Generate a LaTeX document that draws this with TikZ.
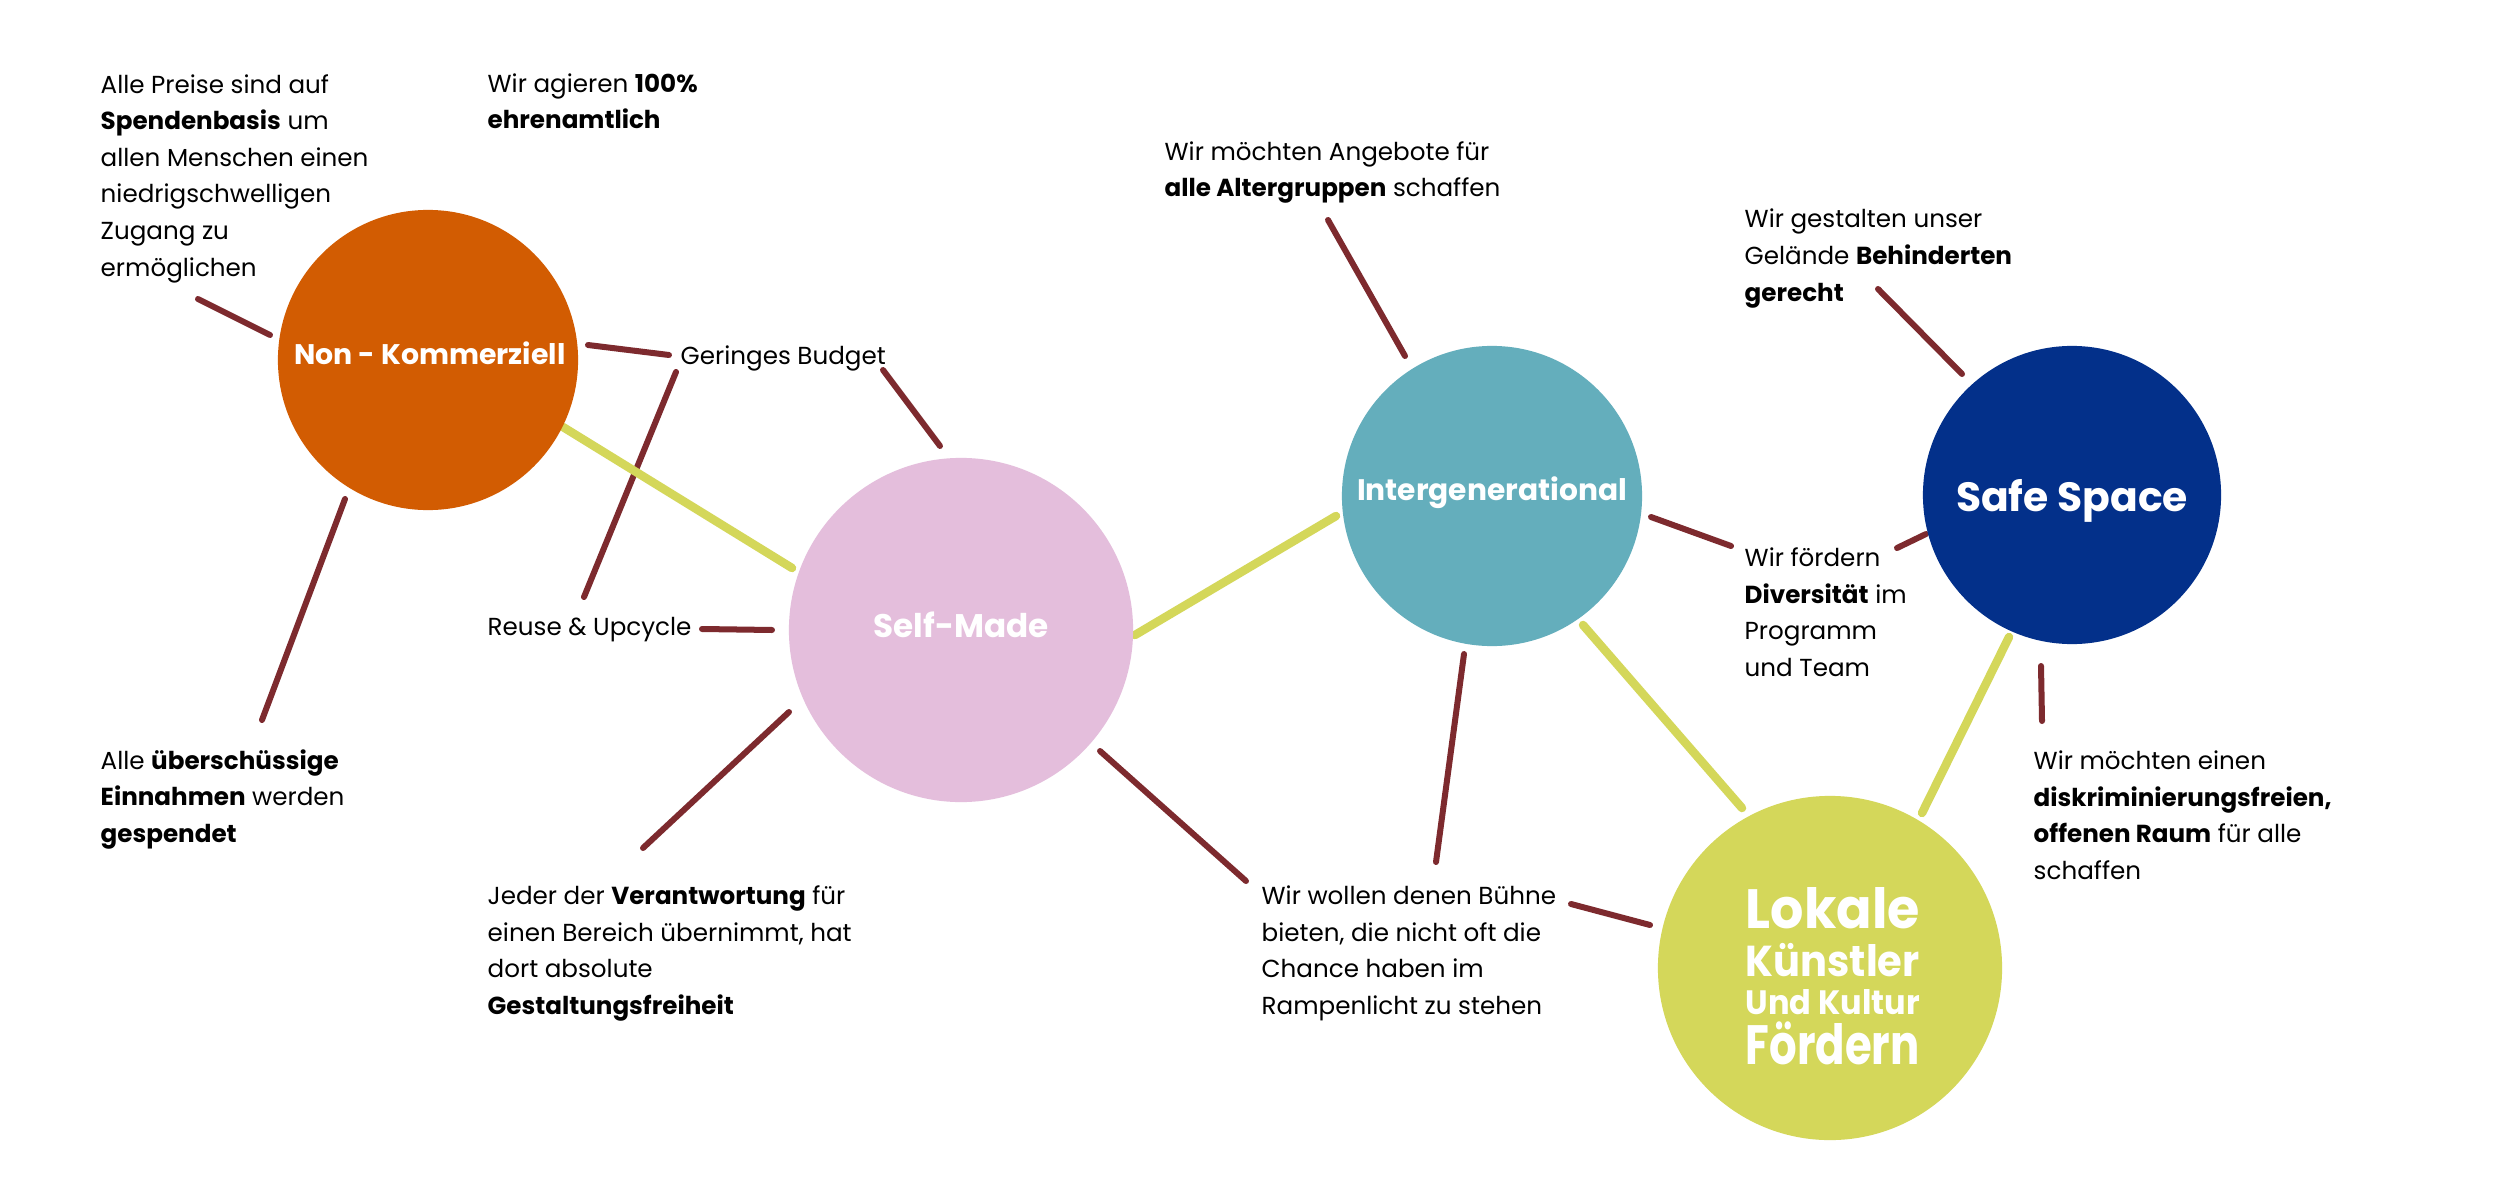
\documentclass[tikz,border=0pt]{standalone}
\usepackage{fontspec}
\setmainfont{Poppins}
\usepackage{graphicx}
\definecolor{cOrange}{HTML}{D25C02}
\definecolor{cPink}{HTML}{E4BEDC}
\definecolor{cTeal}{HTML}{64AEBC}
\definecolor{cNavy}{HTML}{03308A}
\definecolor{cLime}{HTML}{D4D75A}
\definecolor{cRed}{HTML}{7D2A2E}
\newlength\pxu \setlength\pxu{0.01cm}
\begin{document}
\begin{tikzpicture}[x=0.01cm,y=-0.01cm,
  stub/.style={draw=cRed, line width=0.06cm, line cap=round},
  link/.style={draw=cLime, line width=0.085cm, line cap=round},
  circ/.style={circle, inner sep=0pt, draw=none},
  txt/.style={anchor=base west, align=left, inner sep=0pt, text=black,
    font=\fontsize{7.0pt}{10.38pt}\selectfont},
  lbl/.style={anchor=base, inner sep=0pt, text=white, font=\bfseries}]
\useasboundingbox[fill=white] (0,0) rectangle (2500,1194);

% connector end points
\coordinate (r1a) at (198,299);  \coordinate (r1b) at (270,335);
\coordinate (r2a) at (588,345);  \coordinate (r2b) at (669,355);
\coordinate (r3a) at (345,499);  \coordinate (r3b) at (262,720);
\coordinate (r4a) at (676,372);  \coordinate (r4b) at (584,597);
\coordinate (r5a) at (883,370);  \coordinate (r5b) at (940,446);
\coordinate (r6a) at (702,629);  \coordinate (r6b) at (772,630);
\coordinate (r7a) at (789,712);  \coordinate (r7b) at (643,848);
\coordinate (r8a) at (1100,751); \coordinate (r8b) at (1246,881);
\coordinate (r9a) at (1328,220); \coordinate (r9b) at (1405,356);
\coordinate (r10a) at (1651,517); \coordinate (r10b) at (1731,546);
\coordinate (r11a) at (1464,654); \coordinate (r11b) at (1436,862);
\coordinate (r12a) at (1571,904); \coordinate (r12b) at (1650,925);
\coordinate (r13a) at (1878,289); \coordinate (r13b) at (1962,374);
\coordinate (r14a) at (1897,548); \coordinate (r14b) at (1926,534);
\coordinate (r15a) at (2041,666); \coordinate (r15b) at (2042,721);
\coordinate (y1a) at (563,427);  \coordinate (y1b) at (792,568);
\coordinate (y2a) at (1135,635); \coordinate (y2b) at (1336,516);
\coordinate (y3a) at (1583,625); \coordinate (y3b) at (1742,808);
\coordinate (y4a) at (2009,637); \coordinate (y4b) at (1922,813);

% connectors
\foreach \i in {1,...,15} \draw[stub] (r\i a) -- (r\i b);
\foreach \i in {1,...,4} \draw[link] (y\i a) -- (y\i b);

% circles
\node[circ, fill=cOrange, minimum size=3.0cm]  (nk) at (428,360) {};
\node[circ, fill=cPink,   minimum size=3.44cm] (sm) at (961,630) {};
\node[circ, fill=cTeal,   minimum size=3.0cm]  (ig) at (1492,496) {};
\node[circ, fill=cNavy,   minimum size=2.98cm] (ss) at (2072,495) {};
\node[circ, fill=cLime,   minimum size=3.44cm] (lk) at (1830,968) {};

% circle labels
\node[lbl] (nkl) at (430,364) {\resizebox{271\pxu}{!}{Non - Kommerziell}};
\node[lbl] (sml) at (961,637) {\resizebox{175\pxu}{!}{Self-Made}};
\node[lbl] (igl) at (1492,500) {\resizebox{270\pxu}{!}{Intergenerational}};
\node[lbl] (ssl) at (2072,511) {\resizebox{232\pxu}{!}{Safe Space}};
\node[lbl, anchor=base west] (lk1) at (1745,928) {\resizebox{174\pxu}{41\pxu}{Lokale}};
\node[lbl, anchor=base west] (lk2) at (1745,976) {\resizebox{174\pxu}{32\pxu}{K\smash{ü}nstler}};
\node[lbl, anchor=base west] (lk3) at (1745,1014) {\resizebox{174\pxu}{25\pxu}{Und Kultur}};
\node[lbl, anchor=base west] (lk4) at (1745,1064) {\resizebox{174\pxu}{41\pxu}{F\smash{ö}rdern}};

% texts (anchored at the baseline of their last line)
\node[txt] (t1) at (100,276) {Alle Preise sind auf\\\textbf{Spendenbasis} um\\allen Menschen einen\\niedrigschwelligen\\Zugang zu\\ermöglichen};
\node[txt] (t2) at (487,129) {Wir agieren \textbf{100\%}\\\textbf{ehrenamtlich}};
\node[txt] (t3) at (680,364) {Geringes Budget};
\node[txt] (t4) at (487,635) {Reuse \& Upcycle};
\node[txt] (t5) at (100,842) {Alle \textbf{überschüssige}\\\textbf{Einnahmen} werden\\\textbf{gespendet}};
\node[txt] (t6) at (487,1014) {Jeder der \textbf{Verantwortung} für\\einen Bereich übernimmt, hat\\dort absolute\\\textbf{Gestaltungsfreiheit}};
\node[txt] (t7) at (1164,197) {Wir möchten Angebote für\\\textbf{alle Altergruppen} schaffen};
\node[txt] (t8) at (1261,1014) {Wir wollen denen Bühne\\bieten, die nicht oft die\\Chance haben im\\Rampenlicht zu stehen};
\node[txt] (t9) at (1744,301) {Wir gestalten unser\\Gelände \textbf{Behinderten}\\\textbf{gerecht}};
\node[txt] (t10) at (1744,676) {Wir fördern\\\textbf{Diversität} im\\Programm\\und Team};
\node[txt] (t11) at (2033,879) {Wir möchten einen\\\textbf{diskriminierungsfreien,}\\\textbf{offenen Raum} für alle\\schaffen};
\end{tikzpicture}
\end{document}
